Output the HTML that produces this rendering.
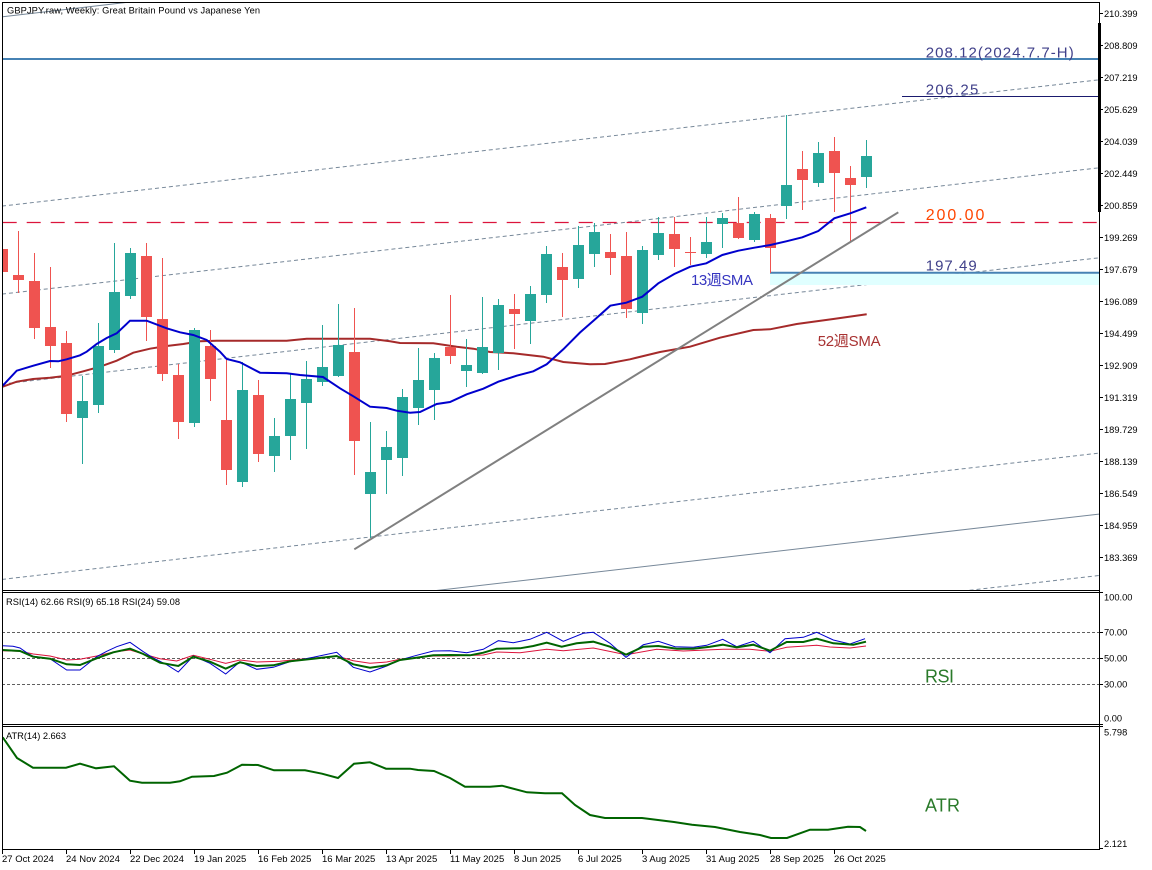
<!DOCTYPE html>
<html><head><meta charset="utf-8"><style>html,body{margin:0;padding:0;background:#fff;width:1152px;height:870px;overflow:hidden}svg{display:block}</style></head>
<body>
<svg width="1152" height="870" viewBox="0 0 1152 870" xmlns="http://www.w3.org/2000/svg" font-family="'Liberation Sans','Noto Sans CJK JP',sans-serif">
<defs>
<clipPath id="cm"><rect x="2.5" y="2.5" width="1097" height="588"/></clipPath>
<clipPath id="cr"><rect x="2.5" y="592.5" width="1097" height="132"/></clipPath>
<clipPath id="ca"><rect x="2.5" y="726.5" width="1097" height="123"/></clipPath>
</defs>
<rect width="1152" height="870" fill="#fff"/>

<g clip-path="url(#cm)">
<!-- channel lines -->
<line x1="2.7" y1="16.7" x2="130" y2="2" stroke="#778899" stroke-width="1"/>
<g stroke="#778899" stroke-width="1" stroke-dasharray="4 3" fill="none">
<line x1="2" y1="206.1" x2="1099" y2="79.8"/>
<line x1="2" y1="294.1" x2="1099" y2="167.8"/>
<line x1="2" y1="384.1" x2="1099" y2="257.8"/>
<line x1="2" y1="579.4" x2="1099" y2="453.1"/>
<line x1="900" y1="598.2" x2="1099" y2="575.5"/>
</g>
<line x1="380" y1="597" x2="1099" y2="514.1" stroke="#778899" stroke-width="1"/>

<!-- light cyan zone -->
<rect x="770" y="273.7" width="330" height="11.3" fill="#e0ffff"/>
<!-- horizontal levels -->
<line x1="2" y1="59" x2="1099" y2="59" stroke="#4682b4" stroke-width="2"/>
<line x1="902" y1="96.5" x2="1099" y2="96.5" stroke="#1a1a6e" stroke-width="1"/>
<line x1="2.7" y1="222.5" x2="1099" y2="222.5" stroke="#dc143c" stroke-width="1.2" stroke-dasharray="14 10"/>
<line x1="770" y1="272.7" x2="1099" y2="272.7" stroke="#4682b4" stroke-width="2"/>

<!-- SMA 52 -->
<polyline fill="none" stroke="#a52a2a" stroke-width="2" points="2.7,386.7 16.7,381.7 33,379 50,377.7 66.7,375.7 83.3,371.3 100,366.7 116.7,360.7 133.3,352.7 150,348.7 166.7,346 183.3,344 200,341.3 216.7,340.7 286.7,340.7 306.7,338.7 370,338.7 390,341.3 400,343 433.3,343.3 456.7,346.7 473.3,348.7 490,352 513.3,353.3 543.3,356.7 563.3,362 590,364.3 605,364 630,359.3 660,352 690,346.7 720,337.7 753.3,330 770,329.3 796.7,324 833.3,319 866.7,314.3"/>

<!-- candles -->
<g fill="#ef5350" shape-rendering="crispEdges">
<rect x="2" y="249" width="1" height="23"/><rect x="-3" y="249" width="11" height="23"/>
<rect x="18" y="231" width="1" height="62"/><rect x="13" y="275" width="11" height="5"/>
<rect x="34" y="253" width="1" height="86"/><rect x="29" y="281" width="11" height="47"/>
<rect x="50" y="267" width="1" height="101"/><rect x="45" y="327" width="11" height="19"/>
<rect x="66" y="331" width="1" height="91"/><rect x="61" y="343" width="11" height="71"/>
<rect x="146" y="243" width="1" height="98"/><rect x="141" y="256" width="11" height="61"/>
<rect x="162" y="258" width="1" height="123"/><rect x="157" y="319" width="11" height="55"/>
<rect x="178" y="364" width="1" height="75"/><rect x="173" y="375" width="11" height="47"/>
<rect x="210" y="330" width="1" height="71"/><rect x="205" y="346" width="11" height="33"/>
<rect x="226" y="360" width="1" height="125"/><rect x="221" y="420" width="11" height="50"/>
<rect x="258" y="380" width="1" height="82"/><rect x="253" y="395" width="11" height="59"/>
<rect x="354" y="308" width="1" height="167"/><rect x="349" y="352" width="11" height="89"/>
<rect x="450" y="295" width="1" height="69"/><rect x="445" y="347" width="11" height="9"/>
<rect x="514" y="294" width="1" height="55"/><rect x="509" y="309" width="11" height="5"/>
<rect x="562" y="253" width="1" height="64"/><rect x="557" y="267" width="11" height="13"/>
<rect x="610" y="234" width="1" height="41"/><rect x="605" y="252" width="11" height="6"/>
<rect x="626" y="232" width="1" height="86"/><rect x="621" y="256" width="11" height="53"/>
<rect x="674" y="217" width="1" height="50"/><rect x="669" y="234" width="11" height="15"/>
<rect x="690" y="237" width="1" height="28"/><rect x="685" y="252" width="11" height="1"/>
<rect x="738" y="197" width="1" height="42"/><rect x="733" y="223" width="11" height="15"/>
<rect x="770" y="214" width="1" height="59"/><rect x="765" y="218" width="11" height="30"/>
<rect x="802" y="151" width="1" height="59"/><rect x="797" y="169" width="11" height="11"/>
<rect x="834" y="137" width="1" height="75"/><rect x="829" y="151" width="11" height="22"/>
<rect x="850" y="166" width="1" height="76"/><rect x="845" y="178" width="11" height="7"/>
</g>
<g fill="#26a69a" shape-rendering="crispEdges">
<rect x="82" y="376" width="1" height="88"/><rect x="77" y="401" width="11" height="17"/>
<rect x="98" y="323" width="1" height="90"/><rect x="93" y="346" width="11" height="59"/>
<rect x="114" y="243" width="1" height="110"/><rect x="109" y="292" width="11" height="58"/>
<rect x="130" y="248" width="1" height="51"/><rect x="125" y="253" width="11" height="43"/>
<rect x="194" y="328" width="1" height="99"/><rect x="189" y="330" width="11" height="93"/>
<rect x="242" y="362" width="1" height="125"/><rect x="237" y="390" width="11" height="92"/>
<rect x="274" y="418" width="1" height="54"/><rect x="269" y="436" width="11" height="20"/>
<rect x="290" y="373" width="1" height="87"/><rect x="285" y="399" width="11" height="37"/>
<rect x="306" y="361" width="1" height="88"/><rect x="301" y="379" width="11" height="24"/>
<rect x="322" y="325" width="1" height="61"/><rect x="317" y="367" width="11" height="15"/>
<rect x="338" y="304" width="1" height="73"/><rect x="333" y="345" width="11" height="31"/>
<rect x="370" y="422" width="1" height="116"/><rect x="365" y="472" width="11" height="22"/>
<rect x="386" y="431" width="1" height="63"/><rect x="381" y="447" width="11" height="13"/>
<rect x="402" y="389" width="1" height="87"/><rect x="397" y="397" width="11" height="61"/>
<rect x="418" y="348" width="1" height="77"/><rect x="413" y="380" width="11" height="28"/>
<rect x="434" y="353" width="1" height="67"/><rect x="429" y="358" width="11" height="32"/>
<rect x="466" y="339" width="1" height="48"/><rect x="461" y="365" width="11" height="6"/>
<rect x="482" y="297" width="1" height="77"/><rect x="477" y="347" width="11" height="26"/>
<rect x="498" y="299" width="1" height="71"/><rect x="493" y="305" width="11" height="48"/>
<rect x="530" y="286" width="1" height="58"/><rect x="525" y="294" width="11" height="27"/>
<rect x="546" y="246" width="1" height="57"/><rect x="541" y="254" width="11" height="41"/>
<rect x="578" y="226" width="1" height="62"/><rect x="573" y="245" width="11" height="34"/>
<rect x="594" y="223" width="1" height="44"/><rect x="589" y="232" width="11" height="22"/>
<rect x="642" y="246" width="1" height="78"/><rect x="637" y="250" width="11" height="63"/>
<rect x="658" y="217" width="1" height="43"/><rect x="653" y="233" width="11" height="22"/>
<rect x="706" y="217" width="1" height="41"/><rect x="701" y="242" width="11" height="12"/>
<rect x="722" y="213" width="1" height="35"/><rect x="717" y="218" width="11" height="6"/>
<rect x="754" y="212" width="1" height="30"/><rect x="749" y="214" width="11" height="26"/>
<rect x="786" y="115" width="1" height="104"/><rect x="781" y="185" width="11" height="21"/>
<rect x="818" y="142" width="1" height="45"/><rect x="813" y="153" width="11" height="30"/>
<rect x="866" y="140" width="1" height="48"/><rect x="861" y="156" width="11" height="21"/>
</g>

<!-- SMA 13 -->
<polyline fill="none" stroke="#0000cd" stroke-width="2" points="2.7,385.7 16.7,370.7 33.3,365.7 50,361 58.3,361.3 66.7,359.3 80,355.3 86.7,351.7 96.7,344 106.7,338 116.7,333.3 130,320.7 146.7,320.7 166.7,328.3 180,332.3 193.3,335 206.7,340 220,351.7 226.7,359 240,362.3 253.3,369.3 260,372.7 286.7,373.3 300,375 323,377 340,388.3 354,396.7 370,406.7 386.7,408 396.7,410.7 410,412.7 420,412 436.7,404 450,402 466.7,394.3 483.3,388.7 498.3,381.7 516.7,375.7 533.3,371.3 546.7,364.3 563.3,349.3 580,332.5 594.3,320 610.3,305.7 626.3,302.7 642.3,296.7 658.3,283.3 674.3,274 690.3,266.7 706.3,263.3 722.3,255 738.3,250.7 754.3,247.7 770.3,245 786.3,241.3 802.3,237.3 818.3,231 834.3,218.3 850.3,213.3 866.3,207.3"/>

<!-- trendline -->
<line x1="354.3" y1="549.3" x2="898.3" y2="212.3" stroke="#808080" stroke-width="2"/>
</g>

<!-- labels main -->
<text x="7" y="13.5" font-size="9.3" fill="#000" textLength="253">GBPJPY.raw, Weekly:  Great Britain Pound vs Japanese Yen</text>
<text x="925.7" y="57.3" font-size="15" fill="#40408a" textLength="148">208.12(2024.7.7-H)</text>
<text x="925.7" y="94.3" font-size="15" fill="#40408a" textLength="52.7">206.25</text>
<text x="925.7" y="220" font-size="16" fill="#ff4500" textLength="58.7">200.00</text>
<text x="925.7" y="270.7" font-size="15" fill="#40408a" textLength="51">197.49</text>
<text x="691" y="285" font-size="15" fill="#3535c0" textLength="62">13週SMA</text>
<text x="817.7" y="346" font-size="15" fill="#a83232" textLength="63">52週SMA</text>

<!-- RSI panel -->
<g stroke="#606060" stroke-width="1" stroke-dasharray="3 2" shape-rendering="crispEdges">
<line x1="2" y1="632.5" x2="1099" y2="632.5"/>
<line x1="2" y1="658.5" x2="1099" y2="658.5"/>
<line x1="2" y1="684.5" x2="1099" y2="684.5"/>
</g>
<g clip-path="url(#cr)" fill="none">
<polyline stroke="#dc143c" stroke-width="1" points="2.7,650.7 20,651.3 33.3,654 50,656 66.7,660 80,659.3 96.7,656 113.3,652 130,650 143.3,654 160,658.7 176.7,661 193.3,655.3 210,659.3 225.7,663.3 240,660 256.7,662 280,661.3 300,659.3 336.7,656 353.3,660.7 370,663.3 386.7,662 400,659.3 433.3,656 450,656 483.3,655 496.7,652 520,652.7 546.7,649.3 563.3,650.7 593.3,648 626,654.7 656.7,649.3 683.3,651 723.3,649.3 750,649.3 770,651.3 786.7,647.3 816.7,645.3 830,647 850,648 866,646"/>
<polyline stroke="#0000cd" stroke-width="1" points="2.7,645.7 13,646.3 20,648 26.7,652.7 33.3,656.3 50,658.7 66.7,670 80,670 96.7,656.7 106.7,651.3 116.7,646.7 130,642.3 143.3,651.7 153.3,658 166.7,664.7 178.3,672 193.3,656 210,663.3 225.7,674 240,661.7 256.7,669.3 273.3,667.3 290,661.7 313.3,657.3 336.7,652.3 353.3,667.3 370,672 386.7,666 400,660 416.7,655.3 433.3,651 450,650.7 466.7,652.7 483.3,649.3 498.3,640.7 513.3,642.7 530,639.3 546.7,632.3 563.3,641.3 583.3,633.3 593.3,632.3 610,643.3 626,657.3 643.3,644.7 658.3,641.3 675,646.7 693.3,647.3 706.7,645.3 722.7,639.3 736.7,646.7 753.3,641.3 770,652.7 785,638.7 803.3,637.3 816.7,632.3 833.3,640 850,644 865,638.7"/>
<polyline stroke="#006400" stroke-width="2" points="2.7,650 20,651 33,656.7 50,658.7 66.7,664.3 80,665 96.7,658.3 113.3,652.3 130,648.7 143.3,654 160,662.7 178.3,666 193.3,656.7 210,661.7 225.7,668.7 240,662.3 256.7,666 273.3,665.3 290,661.3 313.3,658.7 336.7,656 353.3,664.3 370,667.7 386.7,665.3 400,660 420,657.3 433.3,655.3 450,655 470,655.3 483.3,652.7 496.7,648.7 520,648.3 533.3,646 546.7,642.7 561.7,646.7 576.7,643.3 593.3,641.7 610,646.7 626,654.7 643.3,646.7 658.3,646 676.7,648.7 693.3,648.7 710,646.7 722.7,644.7 736.7,647.3 753.3,644.7 770,650.7 786.7,642 803.3,642 816.7,638.7 833.3,643.3 853.3,644.7 866,641.7"/>
</g>
<text x="6" y="605" font-size="9.3" fill="#000" textLength="174">RSI(14) 62.66 RSI(9) 65.18 RSI(24) 59.08</text>
<text x="925" y="682.7" font-size="18" fill="#2a7a2a" textLength="29">RSI</text>

<!-- ATR panel -->
<g clip-path="url(#ca)">
<polyline fill="none" stroke="#006400" stroke-width="2" points="2.7,737.3 17,758 33,767.7 66,767.7 80,763.7 96,768.3 114,766.3 130,780.7 142,782.7 170,782.7 180,781.3 192,776.7 214,776 227,772.7 242,764.7 258,765 274,770.3 305,770.3 322,773.7 338,778 354,763.7 370,762.3 386,768.7 410,768.7 418,770 434,771 450,778 465,786.7 490,786.7 502,785.7 527,792.3 545,793.3 562,793.3 575,805 590,815 605,818 642,818 658,820 674,822 692,824.7 715,827 740,832 760,835 771,838 787,838 810,829.7 828,829.7 848,826.7 860,827 866,831"/>
</g>
<text x="6" y="739" font-size="9.3" fill="#000" textLength="60">ATR(14) 2.663</text>
<text x="925" y="811.7" font-size="18" fill="#2a7a2a" textLength="35">ATR</text>

<!-- frames -->
<g stroke="#000" stroke-width="1" shape-rendering="crispEdges" fill="none">
<line x1="2" y1="2.5" x2="1100" y2="2.5"/>
<line x1="2" y1="590.5" x2="1100" y2="590.5"/>
<line x1="2" y1="592.5" x2="1100" y2="592.5"/>
<line x1="2" y1="724.5" x2="1100" y2="724.5"/>
<line x1="2" y1="726.5" x2="1100" y2="726.5"/>
<line x1="2" y1="849.5" x2="1100" y2="849.5"/>
<line x1="2.5" y1="2" x2="2.5" y2="850"/>
<line x1="1099.5" y1="2" x2="1099.5" y2="850"/>
</g>
<rect x="1098" y="23" width="3" height="189" fill="#000"/>

<!-- price axis ticks -->
<g stroke="#000" stroke-width="1" shape-rendering="crispEdges">
<line x1="1099" y1="13.5" x2="1103" y2="13.5"/><line x1="1099" y1="45.5" x2="1103" y2="45.5"/>
<line x1="1099" y1="77.5" x2="1103" y2="77.5"/><line x1="1099" y1="109.5" x2="1103" y2="109.5"/>
<line x1="1099" y1="141.5" x2="1103" y2="141.5"/><line x1="1099" y1="173.5" x2="1103" y2="173.5"/>
<line x1="1099" y1="205.5" x2="1103" y2="205.5"/><line x1="1099" y1="237.5" x2="1103" y2="237.5"/>
<line x1="1099" y1="269.5" x2="1103" y2="269.5"/><line x1="1099" y1="301.5" x2="1103" y2="301.5"/>
<line x1="1099" y1="333.5" x2="1103" y2="333.5"/><line x1="1099" y1="365.5" x2="1103" y2="365.5"/>
<line x1="1099" y1="397.5" x2="1103" y2="397.5"/><line x1="1099" y1="429.5" x2="1103" y2="429.5"/>
<line x1="1099" y1="461.5" x2="1103" y2="461.5"/><line x1="1099" y1="493.5" x2="1103" y2="493.5"/>
<line x1="1099" y1="525.5" x2="1103" y2="525.5"/><line x1="1099" y1="557.5" x2="1103" y2="557.5"/>
<line x1="1099" y1="592.5" x2="1103" y2="592.5"/><line x1="1099" y1="632.5" x2="1103" y2="632.5"/>
<line x1="1099" y1="658.5" x2="1103" y2="658.5"/><line x1="1099" y1="684.5" x2="1103" y2="684.5"/>
<line x1="1099" y1="724.5" x2="1103" y2="724.5"/><line x1="1099" y1="726.5" x2="1103" y2="726.5"/>
<line x1="1099" y1="848.5" x2="1103" y2="848.5"/>
</g>
<g font-size="9.3" fill="#000">
<text x="1104" y="16.8">210.399</text><text x="1104" y="48.8">208.809</text>
<text x="1104" y="80.8">207.219</text><text x="1104" y="112.8">205.629</text>
<text x="1104" y="144.8">204.039</text><text x="1104" y="176.8">202.449</text>
<text x="1104" y="208.8">200.859</text><text x="1104" y="240.8">199.269</text>
<text x="1104" y="272.8">197.679</text><text x="1104" y="304.8">196.089</text>
<text x="1104" y="336.8">194.499</text><text x="1104" y="368.8">192.909</text>
<text x="1104" y="400.8">191.319</text><text x="1104" y="432.8">189.729</text>
<text x="1104" y="464.8">188.139</text><text x="1104" y="496.8">186.549</text>
<text x="1104" y="528.8">184.959</text><text x="1104" y="560.8">183.369</text>
<text x="1104" y="600.5">100.00</text><text x="1104" y="635.5">70.00</text>
<text x="1104" y="661.5">50.00</text><text x="1104" y="687.5">30.00</text>
<text x="1104" y="721.5">0.00</text>
<text x="1104" y="735.5">5.798</text><text x="1104" y="847">2.121</text>
</g>

<!-- time axis -->
<g stroke="#000" stroke-width="1" shape-rendering="crispEdges">
<line x1="2.5" y1="849" x2="2.5" y2="854"/><line x1="66.5" y1="849" x2="66.5" y2="854"/>
<line x1="130.5" y1="849" x2="130.5" y2="854"/><line x1="194.5" y1="849" x2="194.5" y2="854"/>
<line x1="258.5" y1="849" x2="258.5" y2="854"/><line x1="322.5" y1="849" x2="322.5" y2="854"/>
<line x1="386.5" y1="849" x2="386.5" y2="854"/><line x1="450.5" y1="849" x2="450.5" y2="854"/>
<line x1="514.5" y1="849" x2="514.5" y2="854"/><line x1="578.5" y1="849" x2="578.5" y2="854"/>
<line x1="642.5" y1="849" x2="642.5" y2="854"/><line x1="706.5" y1="849" x2="706.5" y2="854"/>
<line x1="770.5" y1="849" x2="770.5" y2="854"/><line x1="834.5" y1="849" x2="834.5" y2="854"/>
</g>
<g font-size="9.5" fill="#000">
<text x="2" y="862">27 Oct 2024</text><text x="66" y="862">24 Nov 2024</text>
<text x="130" y="862">22 Dec 2024</text><text x="194" y="862">19 Jan 2025</text>
<text x="258" y="862">16 Feb 2025</text><text x="322" y="862">16 Mar 2025</text>
<text x="386" y="862">13 Apr 2025</text><text x="450" y="862">11 May 2025</text>
<text x="514" y="862">8 Jun 2025</text><text x="578" y="862">6 Jul 2025</text>
<text x="642" y="862">3 Aug 2025</text><text x="706" y="862">31 Aug 2025</text>
<text x="770" y="862">28 Sep 2025</text><text x="834" y="862">26 Oct 2025</text>
</g>
</svg>
</body></html>
